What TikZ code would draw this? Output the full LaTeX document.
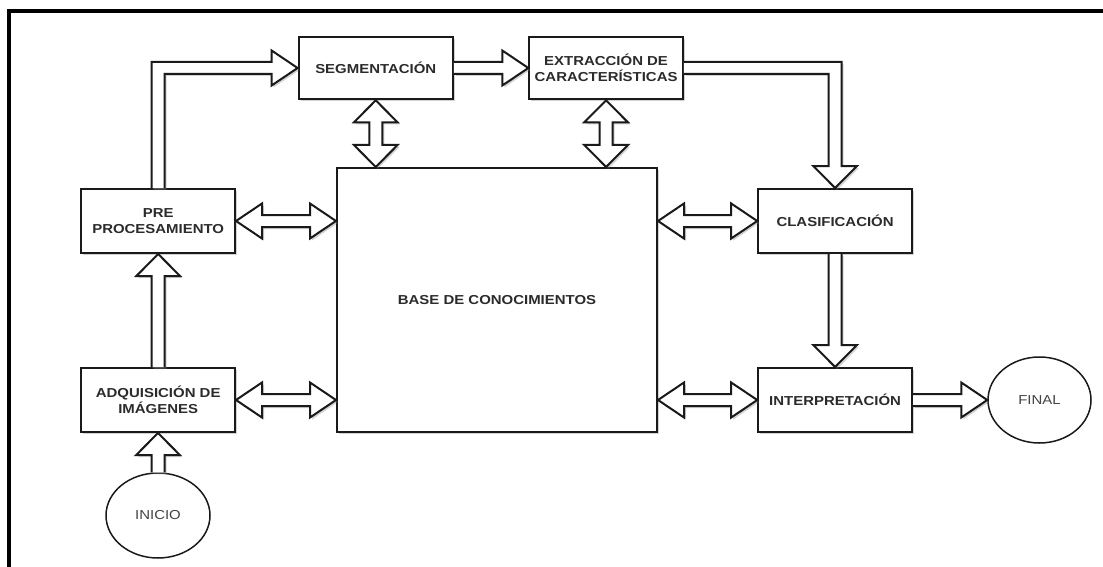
\documentclass[tikz,border=0pt]{standalone}
\usepackage{fontspec}
\newfontfamily\lblfont[FakeStretch=1.15]{Liberation Sans}
\usetikzlibrary{shapes.geometric,shadows,calc}
\definecolor{ink}{HTML}{1A1A1A}
\definecolor{txt}{HTML}{2B2B2B}
\definecolor{soft}{HTML}{444444}
\tikzset{
  shade/.style={drop shadow={shadow xshift=2pt, shadow yshift=-2pt, fill=gray, opacity=0.35}},
  box/.style={draw=ink, line width=2pt, fill=white, rectangle, inner sep=0pt, align=center,
    font=\lblfont\bfseries\fontsize{13}{16}\selectfont, text=txt, shade},
  term/.style={draw=ink, line width=1.5pt, fill=white, ellipse, inner sep=0pt,
    font=\lblfont\fontsize{13}{16}\selectfont, text=soft},
  blockarrow/.style={draw=ink, line width=2pt, fill=white, line join=miter, shade},
  frame/.style={draw=black, line width=3.5pt}
}
% horizontal double arrow
\newcommand\HDArrow[2]{\path[blockarrow] let \p1=(#1), \p2=(#2) in
  (\x1,\y1) -- (\x1+26pt,\y1+17.5pt) -- (\x1+26pt,\y1+6pt) -- (\x2-26pt,\y1+6pt) -- (\x2-26pt,\y1+17.5pt)
  -- (\x2,\y1) -- (\x2-26pt,\y1-17.5pt) -- (\x2-26pt,\y1-6pt) -- (\x1+26pt,\y1-6pt) -- (\x1+26pt,\y1-17.5pt) -- cycle;}
% vertical double arrow (a on top, b below)
\newcommand\VDArrow[2]{\path[blockarrow] let \p1=(#1), \p2=(#2) in
  (\x1,\y1) -- (\x1+21.8pt,\y1-22pt) -- (\x1+6.5pt,\y1-22pt) -- (\x1+6.5pt,\y2+22pt) -- (\x1+21.8pt,\y2+22pt)
  -- (\x1,\y2) -- (\x1-21.8pt,\y2+22pt) -- (\x1-6.5pt,\y2+22pt) -- (\x1-6.5pt,\y1-22pt) -- (\x1-21.8pt,\y1-22pt) -- cycle;}
% horizontal single arrow, left to right
\newcommand\HSArrow[2]{\path[blockarrow] let \p1=(#1), \p2=(#2) in
  (\x1,\y1+6pt) -- (\x2-26pt,\y1+6pt) -- (\x2-26pt,\y1+17.5pt) -- (\x2,\y1) -- (\x2-26pt,\y1-17.5pt)
  -- (\x2-26pt,\y1-6pt) -- (\x1,\y1-6pt);}
% vertical single arrow, upwards
\newcommand\VUArrow[2]{\path[blockarrow] let \p1=(#1), \p2=(#2) in
  (\x1-6.5pt,\y1) -- (\x1-6.5pt,\y2-22pt) -- (\x1-21.8pt,\y2-22pt) -- (\x1,\y2) -- (\x1+21.8pt,\y2-22pt)
  -- (\x1+6.5pt,\y2-22pt) -- (\x1+6.5pt,\y1);}
% vertical single arrow, downwards
\newcommand\VDnArrow[2]{\path[blockarrow] let \p1=(#1), \p2=(#2) in
  (\x1-6.5pt,\y1) -- (\x1-6.5pt,\y2+22pt) -- (\x1-21.8pt,\y2+22pt) -- (\x1,\y2) -- (\x1+21.8pt,\y2+22pt)
  -- (\x1+6.5pt,\y2+22pt) -- (\x1+6.5pt,\y1);}
\begin{document}
\begin{tikzpicture}[x=1pt,y=-1pt]
\useasboundingbox[fill=white] (0,0) rectangle (1103,567);
\draw[frame] (9,570) -- (9,11) -- (1106,11);

\node[box, minimum width=154.3pt, minimum height=62.6pt] (seg) at (375.75,68) {SEGMENTACIÓN};
\node[box, minimum width=153.6pt, minimum height=62.6pt] (ext) at (606.1,68) {EXTRACCIÓN DE\\CARACTERÍSTICAS};
\node[box, minimum width=153.6pt, minimum height=64pt] (pre) at (158.2,221) {PRE\\PROCESAMIENTO};
\node[box, minimum width=153.6pt, minimum height=64pt] (adq) at (158.2,400) {ADQUISICIÓN DE\\IMÁGENES};
\node[box, minimum width=320pt, minimum height=264pt] (base) at (497,300) {BASE DE CONOCIMIENTOS};
\node[box, minimum width=153.8pt, minimum height=64pt] (clas) at (835.1,221) {CLASIFICACIÓN};
\node[box, minimum width=153.8pt, minimum height=64pt] (interp) at (835.1,400) {INTERPRETACIÓN};
\node[term, minimum width=104pt, minimum height=85pt] (inicio) at (158,515.5) {INICIO};
\node[term, minimum width=103pt, minimum height=86pt] (final) at (1039.5,400) {FINAL};

% PRE -> SEG (elbow)
\path[blockarrow] let \p1=(pre.north), \p2=(seg.west) in
  (\x1-6.5pt,\y1) -- (\x1-6.5pt,\y2+6pt) -- (\x2-26pt,\y2+6pt) -- (\x2-26pt,\y2+17.5pt) -- (\x2,\y2)
  -- (\x2-26pt,\y2-17.5pt) -- (\x2-26pt,\y2-6pt) -- (\x1+6.5pt,\y2-6pt) -- (\x1+6.5pt,\y1);
% EXT -> CLAS (elbow)
\path[blockarrow] let \p1=(ext.east), \p2=(clas.north) in
  (\x1,\y1+6pt) -- (\x2+6.5pt,\y1+6pt) -- (\x2+6.5pt,\y2+22pt) -- (\x2+21.8pt,\y2+22pt) -- (\x2,\y2)
  -- (\x2-21.8pt,\y2+22pt) -- (\x2-6.5pt,\y2+22pt) -- (\x2-6.5pt,\y1-6pt) -- (\x1,\y1-6pt);

\HSArrow{seg.east}{ext.west}
\HSArrow{interp.east}{final.west}
\VUArrow{adq.north}{pre.south}
\VUArrow{inicio.north}{adq.south}
\VDnArrow{clas.south}{interp.north}

\HDArrow{pre.east}{pre.east -| base.west}
\HDArrow{adq.east}{adq.east -| base.west}
\HDArrow{clas.west -| base.east}{clas.west}
\HDArrow{interp.west -| base.east}{interp.west}
\VDArrow{seg.south}{seg.south |- base.north}
\VDArrow{ext.south}{ext.south |- base.north}
\end{tikzpicture}
\end{document}
